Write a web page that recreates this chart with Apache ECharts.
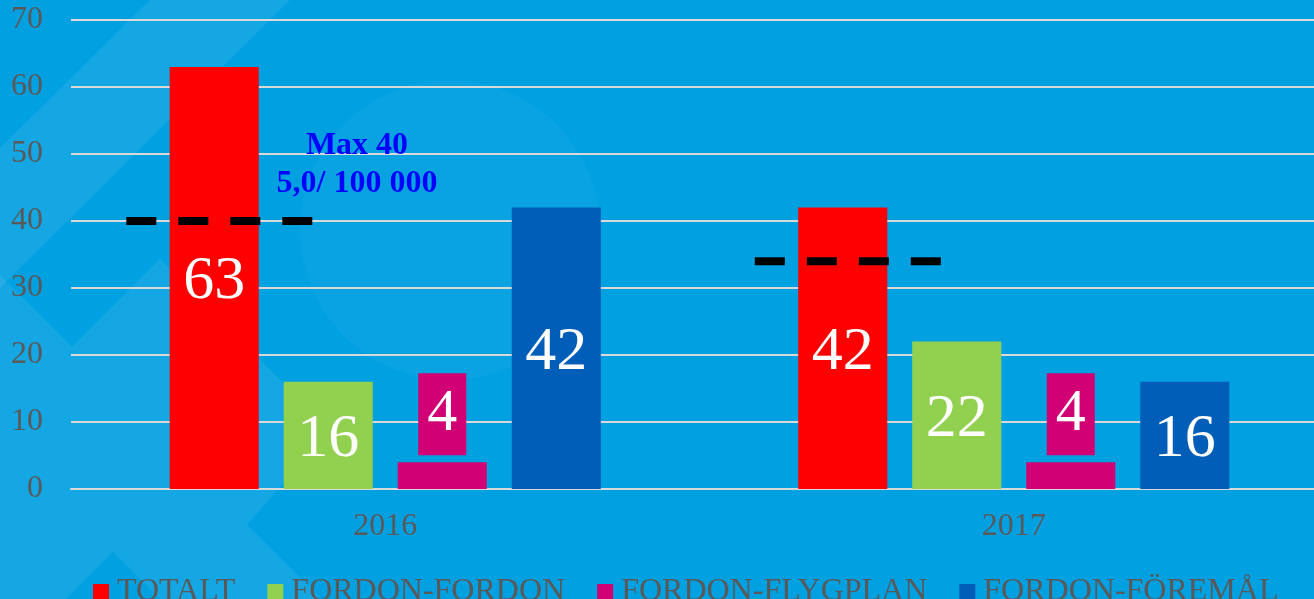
<!DOCTYPE html>
<html>
<head>
<meta charset="utf-8">
<script src="https://cdn.jsdelivr.net/npm/echarts@6/dist/echarts.min.js"></script>
<style>
  html, body { margin: 0; padding: 0; background: #00a0e1; }
  #chart { width: 1314px; height: 599px; }
</style>
</head>
<body>
<div id="chart"></div>
<script>
// 数据
const years = ['2016', '2017'];
const seriesNames = ['TOTALT', 'FORDON-FORDON', 'FORDON-FLYGPLAN', 'FORDON-FÖREMÅL'];
const totalt = [63, 42];
const fordonFordon = [16, 22];
const fordonFlygplan = [4, 4];
const fordonForemal = [42, 16];
const limitValues = [40, 34];
const limitNote = ['Max 40', '5,0/ 100 000'];

const colors = ['#ff0000', '#92d050', '#d10074', '#005eb8'];
const serif = 'Liberation Serif';

// 限值虚线在每个类别内的起止位置（类别宽度的比例）
const LIMIT_FROM = 0.088;
const LIMIT_TO = 0.384;

const chart = echarts.init(document.getElementById('chart'));

const barLabel = {
  show: true,
  position: 'inside',
  offset: [0, 4],
  color: '#ffffff',
  fontFamily: serif,
  fontSize: 62
};

function barSeries(name, data, color, label) {
  return {
    name: name,
    type: 'bar',
    data: data,
    itemStyle: { color: color },
    label: label || barLabel,
    barGap: '28%',
    barCategoryGap: '31.4%'
  };
}

const series = [
  barSeries(seriesNames[0], totalt, colors[0]),
  barSeries(seriesNames[1], fordonFordon, colors[1]),
  barSeries(seriesNames[2], fordonFlygplan, colors[2], {
    show: true,
    position: 'top',
    distance: 7,
    color: '#ffffff',
    fontFamily: serif,
    fontSize: 60,
    lineHeight: 60,
    backgroundColor: colors[2],
    padding: [11, 9]
  }),
  barSeries(seriesNames[3], fordonForemal, colors[3])
];

// 限值虚线
limitValues.forEach((v, i) => {
  series.push({
    name: 'limit' + years[i],
    type: 'line',
    xAxisIndex: 1,
    data: [[i + LIMIT_FROM, v], [i + LIMIT_TO, v]],
    symbol: 'none',
    silent: true,
    z: 5,
    lineStyle: { color: '#000000', width: 8, type: [30, 22], cap: 'butt' }
  });
});

// 背景水印（浅色斜带）
const wm = 'rgba(255,255,255,0.08)';
const watermark = [
  [[0, 148], [150, 0], [290, 0], [0, 288]],
  [[0, 275], [72, 347], [160, 259], [330, 430], [247, 525], [322, 599], [160, 599], [113, 552], [66, 599], [0, 599]]
].map(pts => ({
  type: 'polygon', z: -10, silent: true,
  shape: { points: pts },
  style: { fill: wm }
}));
watermark.push({
  type: 'circle', z: -10, silent: true,
  shape: { cx: 450, cy: 230, r: 150 },
  style: { fill: 'rgba(255,255,255,0.04)' }
});

chart.setOption({
  backgroundColor: '#00a0e1',
  animation: false,
  textStyle: { fontFamily: serif },
  graphic: watermark.concat([
    {
      type: 'text', z: 10, silent: true,
      x: 357, y: 127,
      style: {
        text: limitNote.join('\n'),
        align: 'center',
        verticalAlign: 'top',
        fill: '#0000ff',
        font: 'bold 32px "Liberation Serif"',
        lineHeight: 38
      }
    }
  ]),
  legend: {
    data: seriesNames,
    left: 88,
    top: 571,
    icon: 'rect',
    itemWidth: 16,
    itemHeight: 16,
    itemGap: 32,
    textStyle: { color: '#595959', fontFamily: serif, fontSize: 32, padding: [0, 0, 0, 3] }
  },
  grid: { left: 71, width: 1257, top: 20, bottom: 110, containLabel: false, outerBoundsMode: 'none' },
  xAxis: [
    {
      type: 'category',
      data: years,
      axisTick: { show: false },
      axisLine: { lineStyle: { color: '#d9d9d9', width: 2 } },
      axisLabel: { color: '#595959', fontFamily: serif, fontSize: 32, margin: 22 }
    },
    { type: 'value', min: 0, max: 2, show: false }
  ],
  yAxis: {
    type: 'value',
    min: 0,
    max: 70,
    interval: 10,
    axisLine: { show: false },
    axisTick: { show: false },
    axisLabel: { color: '#595959', fontFamily: serif, fontSize: 32, margin: 28 },
    splitLine: { lineStyle: { color: '#d9d9d9', width: 2 } }
  },
  series: series
});
</script>
</body>
</html>
